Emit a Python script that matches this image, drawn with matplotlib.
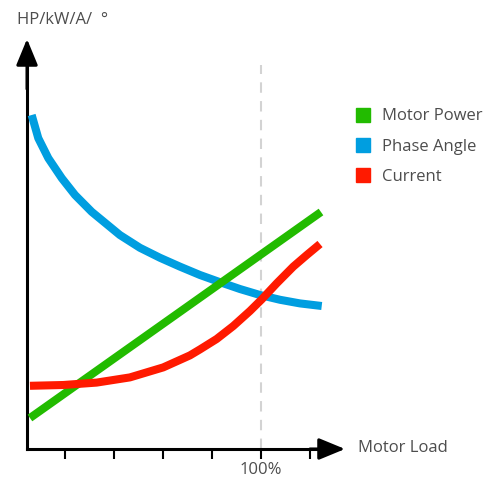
import numpy as np
import matplotlib
matplotlib.use("Agg")
import matplotlib.pyplot as plt
from matplotlib.lines import Line2D

plt.rcParams['font.family'] = ['Open Sans', 'DejaVu Sans']

# motor load in %, curves in arbitrary units
power_load = [5.7, 124.5]
motor_power = [7.75, 59.25]

angle_load = [6.4, 9.1, 13.2, 18.7, 24.1, 30.9, 42.4, 50.6, 58.8, 66.9, 75.1, 83.3, 91.4, 99.6, 107.8, 115.9, 124.8]
phase_angle = [83.5, 77.7, 72.7, 67.7, 63.5, 59.3, 53.5, 50.3, 47.8, 45.6, 43.5, 41.7, 40.0, 38.5, 37.3, 36.4, 35.75]

current_load = [5.7, 19.3, 32.9, 46.5, 60.1, 71.0, 75.1, 81.9, 88.7, 95.5, 100.3, 106.4, 113.2, 118.7, 124.1]
current = [15.8, 16.0, 16.6, 17.9, 20.4, 23.4, 24.9, 27.5, 30.75, 34.5, 37.4, 41.4, 45.6, 48.5, 51.25]

tick_pos = [20, 40, 60, 80, 100, 120]
tick_labels = ['', '', '', '', '100%', '']

green = '#22bb00'
blue = '#009ee0'
red = '#ff1a00'
grey_text = '#4d4d4d'

fig = plt.figure(figsize=(4.91, 4.79), dpi=100)
ax = fig.add_axes([0, 0, 1, 1])
ax.set_xlim(-6.53, 193.9)
ax.set_ylim(-7.5, 112.25)
ax.patch.set_alpha(0)

lw = 5.8
ax.plot(angle_load, phase_angle, color=blue, lw=lw, solid_capstyle='butt',
        solid_joinstyle='round', zorder=3)
ax.plot(power_load, motor_power, color=green, lw=lw, solid_capstyle='butt', zorder=4)
ax.plot(current_load, current, color=red, lw=lw, solid_capstyle='butt',
        solid_joinstyle='round', zorder=5)

# 100% reference line
ax.plot([100, 100], [0, 96], color='#d3d3d3', lw=1.5, dashes=(5, 4), zorder=1)

# axes with arrow heads
for s in ['top', 'right']:
    ax.spines[s].set_visible(False)
ax.spines['bottom'].set_position(('data', 0))
ax.spines['left'].set_position(('data', 4.5))
ax.spines['bottom'].set_bounds(4.5, 128)
ax.spines['left'].set_bounds(0, 97)
for s in ['bottom', 'left']:
    ax.spines[s].set_linewidth(2.2)
    ax.spines[s].set_capstyle('projecting')
ax.set_yticks([])
ax.set_xticks(tick_pos)
ax.set_xticklabels(tick_labels)
ax.tick_params(axis='x', direction='out', length=7.2, width=1.5, pad=2,
               labelsize=12, labelcolor=grey_text)

arrow = dict(arrowstyle='-|>,head_length=0.8,head_width=0.33', color='black',
             lw=2.2, shrinkA=0, shrinkB=0, mutation_scale=20)
ax.annotate('', xy=(134.3, 0), xytext=(120, 0), arrowprops=arrow)
ax.annotate('', xy=(4.5, 102.5), xytext=(4.5, 90), arrowprops=arrow)

ax.text(139.6, 0.3, 'Motor Load', fontsize=12, color=grey_text, va='center', ha='left')
ax.text(0.4, 107.25, 'HP/kW/A/  °', fontsize=12, color=grey_text, va='center', ha='left')

handles = [Line2D([], [], marker='s', ls='', markersize=10.2, color=c)
           for c in [green, blue, red]]
labels = ['Motor Power', 'Phase Angle', 'Current']
fig.legend(handles, labels, loc='upper left', bbox_to_anchor=(354.7 / 491, 1 - 108.5 / 479),
           frameon=False, fontsize=12, labelcolor=grey_text, handletextpad=0.63,
           labelspacing=0.86, handlelength=1.0, borderaxespad=0, borderpad=0)

fig.savefig('out.png', dpi=100)
